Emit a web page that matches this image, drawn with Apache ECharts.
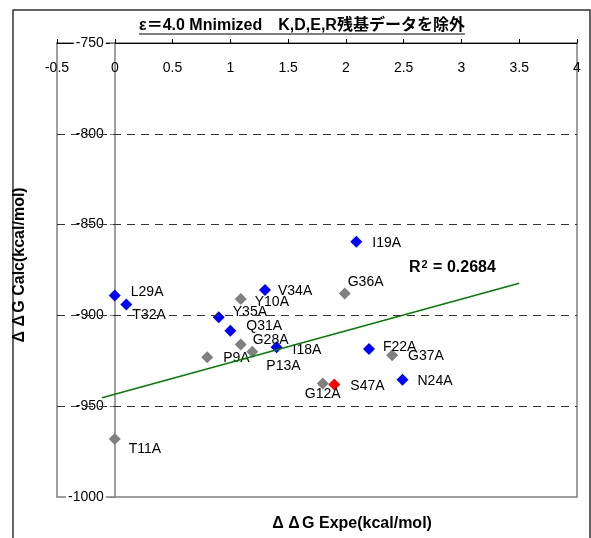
<!DOCTYPE html>
<html>
<head>
<meta charset="utf-8">
<script src="https://cdn.jsdelivr.net/npm/echarts@6/dist/echarts.min.js"></script>
<style>
html,body{margin:0;padding:0;background:#fff;}
#chart{width:591px;height:538px;}
</style>
</head>
<body>
<div id="chart"></div>
<script>
// ---- data ----
const blueNames = ['L29A','T32A','Y35A','Q31A','V34A','I18A','I19A','F22A','N24A'];
const blueX = [0, 0.1, 0.9, 1.0, 1.3, 1.4, 2.09, 2.2, 2.49];
const blueY = [-889, -894, -901, -908.5, -886, -917.5, -859.5, -918.5, -935.5];

const grayNames = ['Y10A','G28A','P9A','P13A','G36A','G37A','G12A','T11A'];
const grayX = [1.09, 1.09, 0.8, 1.19, 1.99, 2.4, 1.8, 0];
const grayY = [-891, -916, -923, -920, -888, -922, -937.5, -968];

const redNames = ['S47A'];
const redX = [1.9];
const redY = [-938];

// linear trend line endpoints (as drawn)
const trendX = [-0.11, 3.5];
const trendY = [-945.3, -882.3];

const gridValues = [-800, -850, -900, -950];

const titleText = '\u03B5\uFF1D4.0 Mnimized\u3000K,D,E,R残基データを除外';

// ---- label placement (styling, px offsets from marker centre) ----
const labelPlace = {
  L29A:[16,-3], T32A:[6,11], Y35A:[14,-5], Q31A:[16,-5], V34A:[13,1], I18A:[16,3],
  I19A:[16,1], F22A:[14,-2], N24A:[15,1], Y10A:[14,3], G28A:[12,-4], P9A:[16,1],
  P13A:[14,14], G36A:[3,-11], G37A:[16,1], G12A:[-18,11], T11A:[14,10], S47A:[16,2]
};

const FONT = "'Liberation Sans', Arial, 'Noto Sans CJK JP', sans-serif";
const SYM = 12;
const GRID = { left: 57, right: 14, top: 43, bottom: 41 };
const X_MIN = -0.5, X_MAX = 4;
const gridW = 591 - GRID.left - GRID.right;
const yAxisShift = -(0 - X_MIN) / (X_MAX - X_MIN) * gridW;

function build(names, xs, ys) {
  return names.map((n, i) => {
    const p = labelPlace[n] || [10, 0];
    return { name: n, value: [xs[i], ys[i]], label: { offset: [p[0] - SYM / 2, p[1]] } };
  });
}

const scatterBase = {
  type: 'scatter',
  symbol: 'diamond',
  symbolSize: SYM,
  z: 3,
  label: {
    show: true, position: 'right', distance: 0,
    formatter: '{b}', color: '#000', fontSize: 14, fontFamily: FONT,
    align: 'left', verticalAlign: 'middle'
  },
  emphasis: { disabled: true }
};

const chart = echarts.init(document.getElementById('chart'), null, { renderer: 'canvas' });

const cv = document.createElement('canvas').getContext('2d');
const titleFont = 'bold 16px ' + FONT;
cv.font = titleFont;
const tw = cv.measureText(titleText).width;
const tcx = 302;

const nameRich = {
  t: { fontFamily: FONT, fontWeight: 'bold', fontSize: 16, fill: '#000' },
  d: { fontFamily: FONT, fontWeight: 'bold', fontSize: 16, width: 16, align: 'center' }
};

chart.setOption({
  animation: false,
  backgroundColor: '#fff',
  grid: Object.assign({ show: true, borderColor: '#808080', borderWidth: 1.5, backgroundColor: 'transparent' }, GRID),
  xAxis: {
    type: 'value', position: 'top', min: X_MIN, max: X_MAX, interval: 0.5, z: 1,
    axisLine: { onZero: false, lineStyle: { color: '#000', width: 1 } },
    axisTick: { show: true, inside: false, length: 4, lineStyle: { color: '#000' } },
    axisLabel: { inside: true, margin: 18, color: '#000', fontSize: 14, fontFamily: FONT, showMinLabel: true, showMaxLabel: true },
    splitLine: { show: false }
  },
  yAxis: {
    type: 'value', min: -1000, max: -750, interval: 50, z: 1,
    position: 'left', offset: yAxisShift,
    axisLine: { onZero: false, lineStyle: { color: '#808080', width: 1.5 } },
    axisTick: { show: true, inside: false, length: 5, lineStyle: { color: '#808080' } },
    axisLabel: { margin: 9, color: '#000', fontSize: 14, fontFamily: FONT, backgroundColor: '#fff', padding: [0, 2], showMinLabel: true, showMaxLabel: true,
      formatter: v => String(v) },
    splitLine: { show: false }
  },
  series: [
    {
      type: 'line', data: [], z: 0, silent: true,
      markLine: {
        silent: true, symbol: ['none', 'none'], label: { show: false },
        lineStyle: { type: [8, 6], color: '#333', width: 1 },
        emphasis: { disabled: true },
        data: gridValues.map(v => ({ yAxis: v }))
      }
    },
    Object.assign({}, scatterBase, { name: 'gray', itemStyle: { color: '#808080', opacity: 1 }, data: build(grayNames, grayX, grayY) }),
    Object.assign({}, scatterBase, { name: 'blue', itemStyle: { color: '#0000FF', opacity: 1 }, data: build(blueNames, blueX, blueY) }),
    Object.assign({}, scatterBase, { name: 'red', itemStyle: { color: '#FF0000', opacity: 1 }, data: build(redNames, redX, redY) }),
    {
      type: 'line', name: 'trend', z: 4, symbol: 'none', silent: true,
      lineStyle: { color: '#008000', width: 1.6 },
      data: trendX.map((x, i) => [x, trendY[i]])
    }
  ],
  graphic: [
    { type: 'rect', z: 100, shape: { x: 13, y: 10, width: 577, height: 540 }, style: { fill: 'none', stroke: '#333', lineWidth: 1.5 } },
    { type: 'text', z: 100, style: { text: titleText, x: tcx, y: 26, align: 'center', verticalAlign: 'middle', font: titleFont, fill: '#000' } },
    { type: 'line', z: 100, shape: { x1: tcx - tw / 2, y1: 34, x2: tcx + tw / 2, y2: 34 }, style: { stroke: '#000', lineWidth: 1.2 } },
    { type: 'text', z: 100, x: 20, y: 266, rotation: Math.PI / 2,
      style: { text: '{d|\u0394}{d|\u0394}{t|G Calc(kcal/mol)}', rich: nameRich, x: 0, y: 0, align: 'center', verticalAlign: 'middle', fill: '#000' } },
    { type: 'text', z: 100,
      style: { text: '{d|\u0394}{d|\u0394}{t|G Expe(kcal/mol)}', rich: nameRich, x: 351, y: 524, align: 'center', verticalAlign: 'middle', fill: '#000' } },
    { type: 'text', z: 100,
      style: { text: '{r|R}{s|2}{r| = 0.2684}', x: 409, y: 268, align: 'left', verticalAlign: 'middle', fill: '#000',
        rich: { r: { fontFamily: FONT, fontWeight: 'bold', fontSize: 16 }, s: { fontFamily: FONT, fontWeight: 'bold', fontSize: 11, verticalAlign: 'top', padding: [0, 1, 6, 1] } } } }
  ]
});
</script>
</body>
</html>
